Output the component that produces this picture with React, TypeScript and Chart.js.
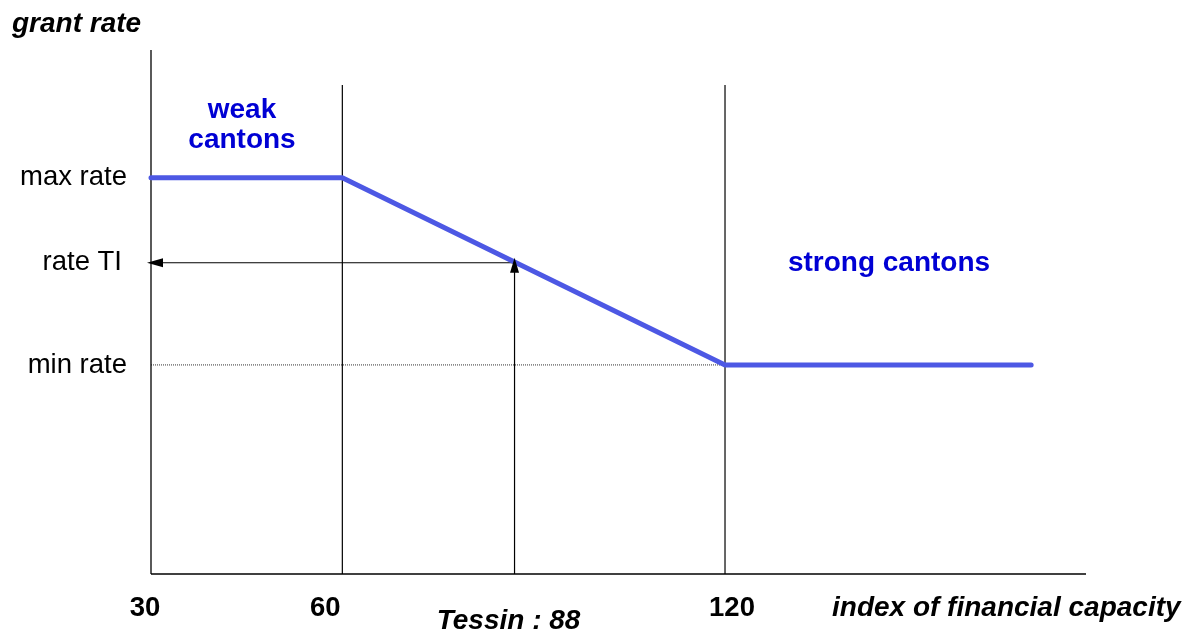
import React, { useEffect, useRef } from "react";
import { Chart, registerables } from "chart.js";

Chart.register(...registerables);

// ---- data ----
const capacityIndex = [30, 60, 120, 168];
const grantRate = [75.6, 75.6, 39.9, 39.9];
const tessinIndex = 87;
const rateTI = 59.4;
const dividerIndex = [60, 120];
const dividerTop = 93.3;
const xTickValues = [30, 60, 120];
const xTickLabels = ["30", "60", "120"];
const yTickValues = [75.6, 59.4, 39.9];
const yTickLabels = ["max rate", "rate TI", "min rate"];
const xMin = 30;
const xMax = 176.6;
const yMin = 0;
const yMax = 100;

const W = 1183;
const H = 633;
const BLUE_LINE = "#4d58e4";
const BLUE_TEXT = "#0000d4";
const FONT = "'Liberation Sans', Arial, sans-serif";

const pts = (xs: number[], ys: number[]) => xs.map((x, i) => ({ x, y: ys[i] }));

export default function App() {
  const ref = useRef<HTMLCanvasElement | null>(null);

  useEffect(() => {
    if (!ref.current) return;

    const textPlugin = {
      id: "annotationsText",
      afterDraw(chart: any) {
        const ctx = chart.ctx as CanvasRenderingContext2D;
        const xs = chart.scales.x;
        const ys = chart.scales.y;
        ctx.save();
        // arrowheads
        ctx.fillStyle = "#000";
        const ax = xs.getPixelForValue(tessinIndex);
        const ay = ys.getPixelForValue(rateTI);
        const upTip = ay - 5;
        ctx.beginPath();
        ctx.moveTo(ax, upTip);
        ctx.lineTo(ax - 4.5, upTip + 15);
        ctx.lineTo(ax + 4.5, upTip + 15);
        ctx.closePath();
        ctx.fill();
        const lx = xs.getPixelForValue(xMin) - 4;
        ctx.beginPath();
        ctx.moveTo(lx, ay);
        ctx.lineTo(lx + 16, ay - 4.5);
        ctx.lineTo(lx + 16, ay + 4.5);
        ctx.closePath();
        ctx.fill();

        // y labels
        ctx.fillStyle = "#000";
        ctx.font = `27.5px ${FONT}`;
        ctx.textAlign = "right";
        ctx.textBaseline = "middle";
        const yRight = [127, 122, 127];
        yTickValues.forEach((v, i) => {
          ctx.fillText(yTickLabels[i], yRight[i], ys.getPixelForValue(v));
        });

        // x tick labels
        ctx.font = `bold 27.5px ${FONT}`;
        ctx.textAlign = "center";
        ctx.textBaseline = "alphabetic";
        const xOff = [-6, -17, 7];
        const baseX = ys.getPixelForValue(yMin) + 42;
        xTickValues.forEach((v, i) => {
          ctx.fillText(xTickLabels[i], xs.getPixelForValue(v) + xOff[i], baseX);
        });

        // Tessin label
        ctx.font = `italic bold 28px ${FONT}`;
        ctx.fillText("Tessin : 88", xs.getPixelForValue(tessinIndex) - 6, baseX + 13);

        // axis titles
        ctx.textAlign = "left";
        ctx.fillText("index of financial capacity", 832, baseX);
        ctx.fillText("grant rate", 12, 32);

        // region labels
        ctx.fillStyle = BLUE_TEXT;
        ctx.font = `bold 28px ${FONT}`;
        ctx.textAlign = "center";
        ctx.fillText("weak", 242, 118);
        ctx.fillText("cantons", 242, 148);
        ctx.fillText("strong cantons", 889, 271);
        ctx.restore();
      },
    };

    const black = "#000";
    const chart = new Chart(ref.current, {
      type: "line",
      data: {
        datasets: [
          {
            label: "grant rate",
            data: pts(capacityIndex, grantRate),
            borderColor: BLUE_LINE,
            borderWidth: 5,
            borderCapStyle: "round",
            borderJoinStyle: "round",
            pointRadius: 0,
            clip: false,
            order: 1,
          } as any,
          {
            label: "y axis",
            data: pts([xMin, xMin], [yMin, yMax]),
            borderColor: black,
            borderWidth: 1.3,
            pointRadius: 0,
            clip: false,
            order: 5,
          },
          {
            label: "x axis",
            data: pts([xMin, xMax], [yMin, yMin]),
            borderColor: black,
            borderWidth: 1.3,
            pointRadius: 0,
            clip: false,
            order: 5,
          },
          ...dividerIndex.map((d) => ({
            label: "divider " + d,
            data: pts([d, d], [yMin, dividerTop]),
            borderColor: black,
            borderWidth: 1.2,
            pointRadius: 0,
            clip: false,
            order: 5,
          })),
          {
            label: "min rate guide",
            data: pts([xMin, 120], [grantRate[2], grantRate[2]]),
            borderColor: "#333",
            borderWidth: 1,
            borderDash: [1, 1],
            pointRadius: 0,
            clip: false,
            order: 6,
          },
          {
            label: "Tessin up",
            data: pts([tessinIndex, tessinIndex], [yMin, rateTI + 0.5]),
            borderColor: black,
            borderWidth: 1.2,
            pointRadius: 0,
            clip: false,
            order: 4,
          },
          {
            label: "Tessin left",
            data: pts([tessinIndex, xMin], [rateTI, rateTI]),
            borderColor: black,
            borderWidth: 1.2,
            pointRadius: 0,
            clip: false,
            order: 4,
          },
        ],
      },
      options: {
        animation: false,
        responsive: false,
        devicePixelRatio: 1,
        layout: { padding: { left: 151, right: 97, top: 50, bottom: 59 } },
        plugins: { legend: { display: false }, tooltip: { enabled: false } },
        scales: {
          x: { type: "linear", min: xMin, max: xMax, display: false },
          y: { type: "linear", min: yMin, max: yMax, display: false },
        },
      },
      plugins: [textPlugin],
    } as any);
    return () => chart.destroy();
  }, []);

  return (
    <canvas
      ref={ref}
      width={W}
      height={H}
      style={{ position: "absolute", left: 0, top: 0, width: W, height: H, background: "#fff" }}
    />
  );
}
